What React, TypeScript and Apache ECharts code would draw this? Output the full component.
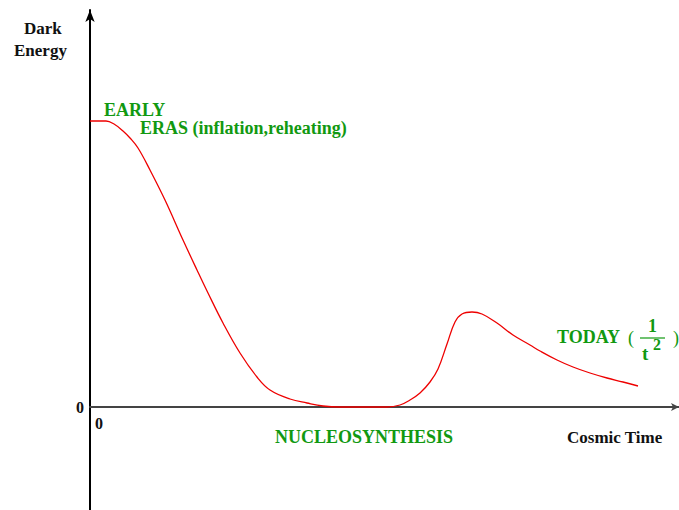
import React, { useEffect, useRef } from "react";
import * as echarts from "echarts";

const timeValues = [0, 16, 24, 33, 40, 48, 60, 75, 93, 107, 118, 133, 150, 167, 180, 200, 217, 233, 250, 297, 310, 320, 330, 340, 348, 357, 365, 372, 382, 392, 407, 423, 440, 450, 467, 483, 500, 517, 533, 548];
const energyValues = [286, 286, 283, 276, 269, 259, 237, 207, 167, 137, 114, 84, 54, 30, 17, 8, 4, 1, 0, 0, 2, 7, 14, 25, 38, 63, 85, 93, 95, 93, 84, 72, 62, 56, 47, 40, 34, 29, 25, 21];

const GREEN = "#119911";
const SERIF = "'Times New Roman', 'Liberation Serif', serif";

export default function App() {
  const ref = useRef<HTMLDivElement>(null);
  useEffect(() => {
    if (!ref.current) return;
    const chart = echarts.init(ref.current, null, { renderer: "svg" });
    const data = timeValues.map((t, i) => [t, energyValues[i]]);
    const txt = (x: number, y: number, text: string, fill: string, size = 18, weight: any = "bold") => ({
      type: "text",
      x,
      y,
      style: { text, fill, fontFamily: SERIF, fontSize: size, fontWeight: weight, verticalAlign: "middle" },
    });
    chart.setOption({
      animation: false,
      grid: { left: 90, right: 0, top: 10, bottom: 0 },
      xAxis: {
        type: "value",
        min: 0,
        max: 589,
        axisLine: { onZero: true, lineStyle: { color: "#444", width: 2 }, symbol: ["none", "arrow"], symbolSize: [6, 8] },
        axisTick: { show: false },
        axisLabel: { show: false },
        splitLine: { show: false },
      },
      yAxis: {
        type: "value",
        min: -103,
        max: 397,
        axisLine: { show: true, lineStyle: { color: "#000", width: 2 }, symbol: ["none", "arrow"], symbolSize: [7, 12] },
        axisTick: { show: false },
        axisLabel: { show: false },
        splitLine: { show: false },
      },
      series: [
        {
          type: "line",
          data,
          smooth: 0.4,
          showSymbol: false,
          lineStyle: { color: "#ee0000", width: 1.3 },
        },
      ],
      graphic: [
        txt(24, 28, "Dark", "#111", 17),
        txt(14, 50, "Energy", "#111", 17),
        txt(104, 110, "EARLY", GREEN, 18),
        txt(140, 128, "ERAS (inflation,reheating)", GREEN, 18),
        txt(557, 337, "TODAY", GREEN, 18),
        txt(628, 338, "(", GREEN, 18, "normal"),
        txt(648, 326, "1", GREEN, 18),
        { type: "line", shape: { x1: 640, y1: 338, x2: 665, y2: 338 }, style: { stroke: GREEN, lineWidth: 1.2 } },
        txt(642, 353, "t", GREEN, 19),
        txt(653, 344, "2", GREEN, 16),
        txt(673, 338, ")", GREEN, 18, "normal"),
        txt(76, 407, "0", "#111", 16),
        txt(95, 423, "0", "#111", 16),
        txt(275, 437, "NUCLEOSYNTHESIS", GREEN, 18),
        txt(567, 437, "Cosmic Time", "#111", 17),
      ],
    });
    return () => chart.dispose();
  }, []);
  return <div ref={ref} style={{ width: 679, height: 510, position: "fixed", left: 0, top: 0, background: "#fff" }} />;
}
